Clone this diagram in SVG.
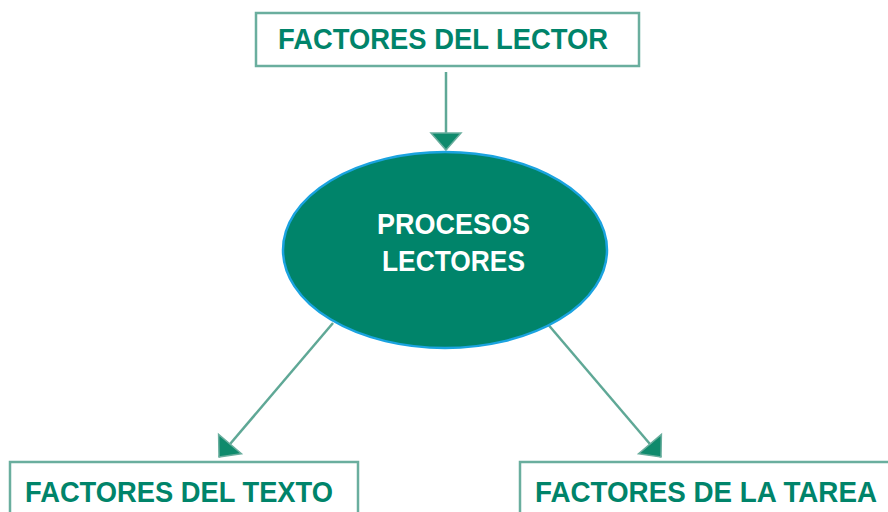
<svg xmlns="http://www.w3.org/2000/svg" width="888" height="512" viewBox="0 0 888 512">
<style>
.box{fill:#ffffff;stroke:#6aae9e;stroke-width:2.5}
.lbl{font-family:"Liberation Sans",Arial,sans-serif;font-weight:bold;font-size:29px;fill:#00846a}
.wl{font-family:"Liberation Sans",Arial,sans-serif;font-weight:bold;font-size:29px;fill:#ffffff}
.conn{stroke:#5fa896;stroke-width:2.5;fill:none}
</style>
<defs>
<marker id="ah" markerUnits="userSpaceOnUse" markerWidth="40" markerHeight="40" viewBox="-20 -20 40 40" refX="0" refY="0" orient="auto">
<path d="M0,0 L-17,-15 L-17,15 Z" fill="#0f8a6c" stroke="#6aae9e" stroke-width="1.5"/>
</marker>
</defs>
<g id="connectors">
<line class="conn" x1="446" y1="72" x2="446" y2="150" marker-end="url(#ah)"/>
<line class="conn" x1="333" y1="323" x2="219" y2="457" marker-end="url(#ah)"/>
<line class="conn" x1="546" y1="322" x2="661" y2="457" marker-end="url(#ah)"/>
</g>
<g id="lector">
<rect class="box" x="256" y="13" width="383" height="53"/>
<text class="lbl" x="278" y="49" textLength="330" lengthAdjust="spacingAndGlyphs">FACTORES DEL LECTOR</text>
</g>
<g id="procesos">
<ellipse cx="445" cy="250" rx="162" ry="98" fill="#00846a" stroke="#1aa3e0" stroke-width="2.5"/>
<text class="wl" x="377" y="234" textLength="153" lengthAdjust="spacingAndGlyphs">PROCESOS</text>
<text class="wl" x="382" y="271" textLength="143" lengthAdjust="spacingAndGlyphs">LECTORES</text>
</g>
<g id="texto">
<rect class="box" x="10" y="462" width="348" height="60"/>
<text class="lbl" x="25" y="502" textLength="308" lengthAdjust="spacingAndGlyphs">FACTORES DEL TEXTO</text>
</g>
<g id="tarea">
<rect class="box" x="520" y="462" width="380" height="60"/>
<text class="lbl" x="535" y="502" textLength="342" lengthAdjust="spacingAndGlyphs">FACTORES DE LA TAREA</text>
</g>
</svg>
